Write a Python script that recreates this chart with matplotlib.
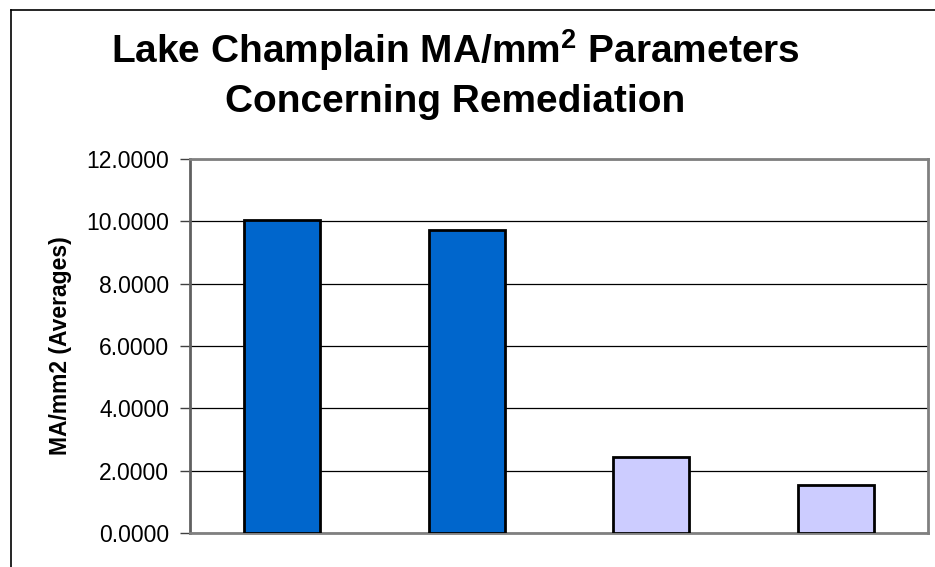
import matplotlib.pyplot as plt
from matplotlib.lines import Line2D

plt.rcParams['font.family'] = ['Liberation Sans', 'DejaVu Sans']
plt.rcParams['mathtext.fontset'] = 'custom'
plt.rcParams['mathtext.rm'] = 'Liberation Sans:bold'
plt.rcParams['mathtext.bf'] = 'Liberation Sans:bold'

# --- data ---
categories = ['A', 'B', 'C', 'D']
averages = [10.04, 9.72, 2.45, 1.53]
bar_colors = ['#0066CC', '#0066CC', '#CCCCFF', '#CCCCFF']
y_ticks = [0, 2, 4, 6, 8, 10, 12]

fig = plt.figure(figsize=(9.35, 5.67), dpi=100)
ax = fig.add_axes([190 / 935, 34 / 567, 738 / 935, 374 / 567])

x = range(len(categories))
ax.bar(x, averages, width=0.41, color=bar_colors, edgecolor='black',
       linewidth=2, zorder=3)

ax.set_xlim(-0.5, len(categories) - 0.5)
ax.set_ylim(0, 12)
ax.set_yticks(y_ticks)
ax.set_yticklabels([f'{v:.4f}' for v in y_ticks], fontsize=16.5)
ax.set_xticks([])
ax.tick_params(axis='y', direction='out', length=7, width=1,
               color='#404040', pad=8)

# horizontal gridlines
ax.yaxis.grid(True, color='black', linewidth=0.9, zorder=1)
ax.set_axisbelow(True)

for side in ['top', 'right', 'bottom']:
    ax.spines[side].set_color('#808080')
    ax.spines[side].set_linewidth(2)
ax.spines['left'].set_color('#606060')
ax.spines['left'].set_linewidth(2)

ax.set_ylabel('MA/mm2 (Averages)', fontsize=16.5, fontweight='bold')
ax.yaxis.set_label_coords((72 - 190) / 738, 0.5)

# title
fig.text(455 / 935, 1 - 63 / 567, r'Lake Champlain MA/mm$^{2}$ Parameters',
         ha='center', va='baseline', fontsize=28, fontweight='bold')
fig.text(455 / 935, 1 - 112 / 567, 'Concerning Remediation',
         ha='center', va='baseline', fontsize=28, fontweight='bold')

# chart border (left and top edges)
fig.add_artist(Line2D([11 / 935, 11 / 935], [0, 1 - 10 / 567],
                      color='black', linewidth=1.2))
fig.add_artist(Line2D([11 / 935, 1], [1 - 10 / 567, 1 - 10 / 567],
                      color='black', linewidth=1.2))

plt.savefig('out.png', dpi=100)
